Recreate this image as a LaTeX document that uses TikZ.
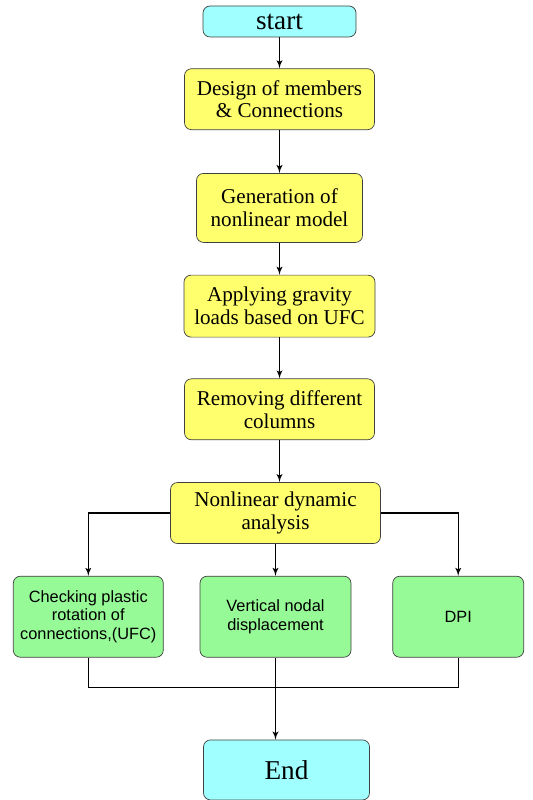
\documentclass[tikz,border=0pt]{standalone}
\usepackage{fontspec}
\setmainfont{Liberation Serif}
\setsansfont{Liberation Sans}
\usepackage{tikz}
\usetikzlibrary{positioning, shapes, arrows}

\definecolor{termcyan}{RGB}{160,255,255}
\definecolor{stepyellow}{RGB}{255,255,110}
\definecolor{checkgreen}{RGB}{150,250,150}

\begin{document}
\begin{tikzpicture}[
		box/.style={rectangle, draw=black!75, rounded corners=4pt, align=center, inner sep=0pt, fill=#1, font=\fontsize{12}{13}\selectfont},
		stepbox/.style={box=stepyellow, minimum height=1.22cm},
		checkbox/.style={box=checkgreen, minimum height=1.62cm, font=\sffamily\fontsize{9.3}{10.6}\selectfont},
		line/.style={draw, semithick, -latex'}
		]
		\useasboundingbox (0,0) rectangle (10.66,-16);
		
		% Start
		\node[box=termcyan, minimum width=3.06cm, minimum height=0.62cm, font=\fontsize{15.5}{16}\selectfont] (start) at (5.59,-0.43) {start};
		
		% Main steps
		\node[stepbox, minimum width=3.8cm, below=0.62cm of start] (design) {Design of members\\ \& Connections};
		\node[stepbox, minimum width=3.32cm, minimum height=1.38cm, below=0.86cm of design] (model) {Generation of\\ nonlinear model};
		\node[stepbox, minimum width=3.82cm, minimum height=1.24cm, below=0.64cm of model] (gravity) {Applying gravity\\ loads based on UFC};
		\node[stepbox, minimum width=3.8cm, below=0.82cm of gravity] (remove) {Removing different\\ columns};
		\node[stepbox, minimum width=4.2cm, below=0.84cm of remove, xshift=-0.08cm] (dynamic) {Nonlinear dynamic\\ analysis};
		
		% Checks
		\node[checkbox, minimum width=3.02cm, below=0.64cm of dynamic] (nodal) {Vertical nodal\\ displacement};
		\node[checkbox, minimum width=3.0cm, left=0.72cm of nodal] (rotation) {Checking plastic\\ rotation of\\ connections,(UFC)};
		\node[checkbox, minimum width=2.62cm, right=0.82cm of nodal] (dpi) {DPI};
		
		% End
		\node[box=termcyan, minimum width=3.32cm, minimum height=1.2cm, font=\fontsize{15.5}{16}\selectfont, below=1.64cm of nodal, xshift=0.22cm] (end) {End};
		\coordinate[below=0.6cm of nodal] (merge);
		
		% Connections
		\path[line] (start) -- (design);
		\path[line] (design) -- (model);
		\path[line] (model) -- (gravity);
		\path[line] (gravity) -- (remove);
		\path[line] (remove) -- (remove |- dynamic.north);
		
		\path[line] (dynamic.west) -| (rotation.north);
		\path[line] (dynamic) -- (nodal);
		\path[line] (dynamic.east) -| (dpi.north);
		
		\draw[semithick] (rotation.south) |- (merge) -| (dpi.south);
		\path[line] (nodal.south) -- (nodal.south |- end.north);
		
	\end{tikzpicture}
\end{document}
